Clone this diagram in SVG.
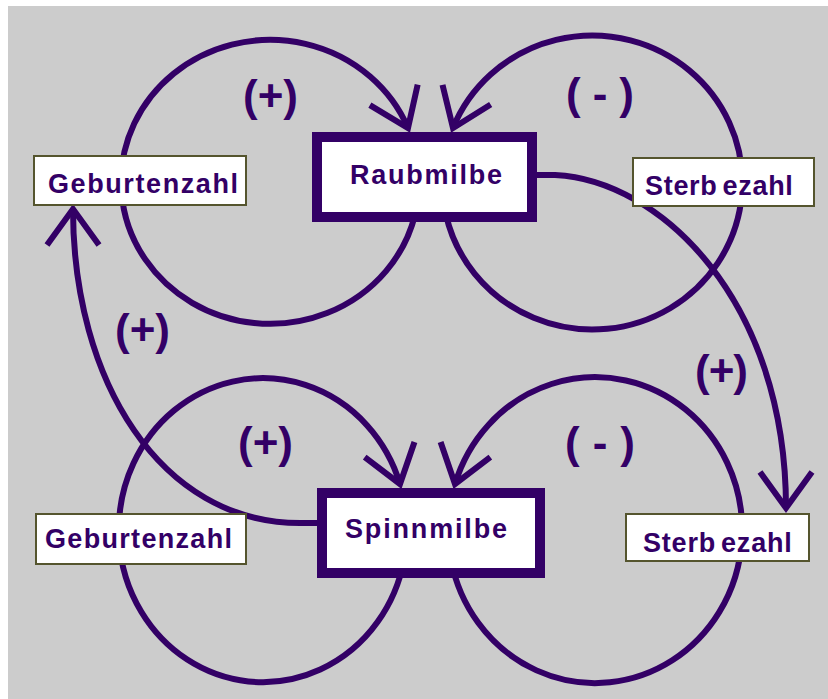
<svg xmlns="http://www.w3.org/2000/svg" width="828" height="699" viewBox="0 0 828 699">
  <style>
    .wire { fill: none; stroke: #330066; stroke-width: 6; }
    .arrowed { marker-end: url(#vee); }
    .small { fill: #ffffff; stroke: #55552e; stroke-width: 2; }
    .big { fill: #ffffff; stroke: #330066; stroke-width: 10; }
    .lbl { font-family: "Liberation Sans", Arial, sans-serif; font-weight: bold; font-size: 27px; fill: #330066; }
    .sign { font-family: "Liberation Sans", Arial, sans-serif; font-weight: bold; font-size: 44px; fill: #330066; }
  </style>
  <defs>
    <!-- open V arrowhead, tip at the path end -->
    <marker id="vee" markerUnits="userSpaceOnUse" orient="auto" overflow="visible" refX="0" refY="0" markerWidth="1" markerHeight="1">
      <path d="M-36,-26 L0,0 L-36,26" fill="none" stroke="#330066" stroke-width="6" stroke-linejoin="miter"/>
    </marker>
  </defs>

  <rect x="8" y="6" width="820" height="693" fill="#cccccc"/>

  <g id="connectors">
    <!-- feedback loops around the two populations -->
    <path class="wire arrowed" d="M415,215 A149,142 0 1 1 408,128"/>
    <path class="wire arrowed" d="M446,215 A150,147 0 1 0 453,128"/>
    <path class="wire arrowed" d="M404,560 A144,152 0 1 1 400,484"/>
    <path class="wire arrowed" d="M451,560 A147,153 0 1 0 455,484"/>
    <!-- coupling between the populations -->
    <path class="wire arrowed" d="M537,175 L555,175 C660,180 786,300 786,508"/>
    <path class="wire arrowed" d="M317,523 L300,523 C160,523 73,380 73,209"/>
  </g>

  <g id="geburtenzahl-oben">
    <rect class="small" x="34" y="156" width="212" height="49"/>
    <text class="lbl" x="48" y="193" textLength="190" lengthAdjust="spacing">Geburtenzahl</text>
  </g>
  <g id="raubmilbe">
    <rect class="big" x="317" y="137" width="215" height="80"/>
    <text class="lbl" x="350" y="184" textLength="152" lengthAdjust="spacing">Raubmilbe</text>
  </g>
  <g id="sterbezahl-oben">
    <rect class="small" x="633" y="158" width="181" height="48"/>
    <text class="lbl" x="645" y="195" letter-spacing="0.7">Sterb<tspan dx="5">ezahl</tspan></text>
  </g>
  <g id="geburtenzahl-unten">
    <rect class="small" x="36" y="514" width="210" height="50"/>
    <text class="lbl" x="45" y="548" textLength="187" lengthAdjust="spacing">Geburtenzahl</text>
  </g>
  <g id="spinnmilbe">
    <rect class="big" x="322" y="493" width="218" height="80"/>
    <text class="lbl" x="345" y="538" textLength="162" lengthAdjust="spacing">Spinnmilbe</text>
  </g>
  <g id="sterbezahl-unten">
    <rect class="small" x="626" y="514" width="183" height="47"/>
    <text class="lbl" x="643" y="552" letter-spacing="0.8">Sterb<tspan dx="5">ezahl</tspan></text>
  </g>

  <g id="vorzeichen">
    <text class="sign" x="243" y="111" textLength="55" lengthAdjust="spacing">(+)</text>
    <text class="sign" x="566" y="109" textLength="68" lengthAdjust="spacing">( - )</text>
    <text class="sign" x="115" y="345" textLength="55" lengthAdjust="spacing">(+)</text>
    <text class="sign" x="695" y="386" textLength="53" lengthAdjust="spacing">(+)</text>
    <text class="sign" x="238" y="458" textLength="55" lengthAdjust="spacing">(+)</text>
    <text class="sign" x="565" y="458" textLength="70" lengthAdjust="spacing">( - )</text>
  </g>
</svg>
